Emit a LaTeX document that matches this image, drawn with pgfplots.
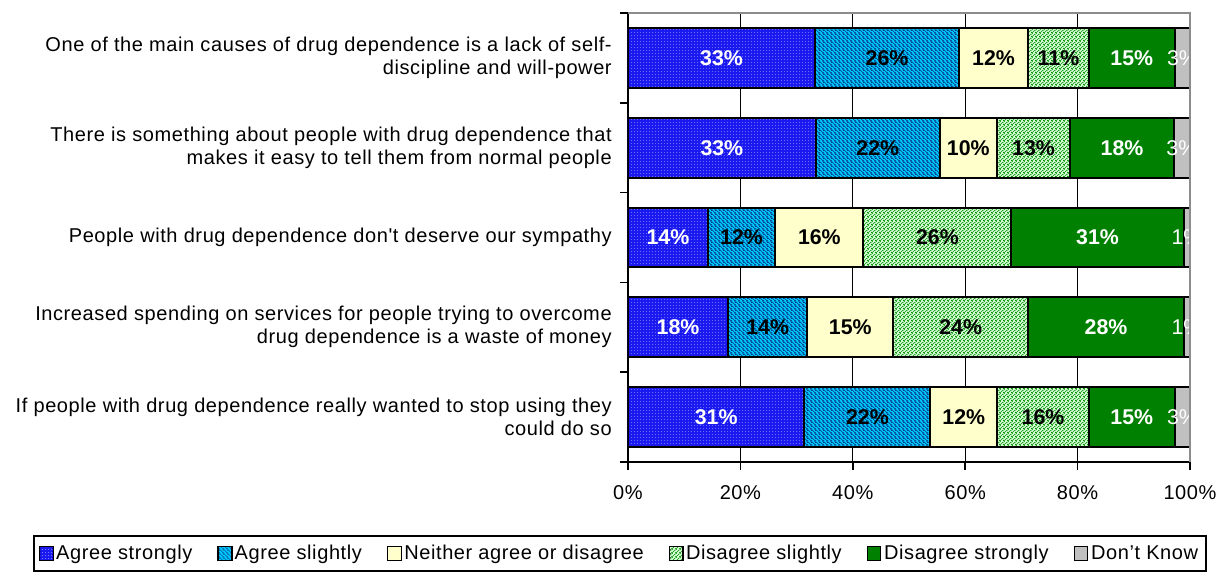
\documentclass[border=0pt]{standalone}
\usepackage{fontspec}
\setmainfont{Liberation Sans}
\newfontfamily\lsfont{Liberation Sans}[LetterSpace=3]
\usepackage{pgfplots}
\usepackage{pgfplotstable}
\pgfplotsset{compat=1.18}
\usetikzlibrary{patterns}

\definecolor{cAS}{RGB}{25,25,240}
\definecolor{cASl}{RGB}{0,204,255}
\definecolor{cASlLine}{RGB}{0,40,120}
\definecolor{cN}{RGB}{255,255,204}
\definecolor{cDSl}{RGB}{215,255,215}
\definecolor{cDSlLine}{RGB}{0,140,0}
\definecolor{cDS}{RGB}{0,128,0}
\definecolor{cDK}{RGB}{192,192,192}
\definecolor{cFrame}{RGB}{140,140,140}

\pgfdeclarepatterninherentlycolored{asdots}{\pgfpointorigin}{\pgfqpoint{2.4pt}{2.4pt}}{\pgfqpoint{2.4pt}{2.4pt}}{%
  \pgfsetfillcolor{cAS}%
  \pgfpathrectangle{\pgfpointorigin}{\pgfqpoint{2.4pt}{2.4pt}}\pgfusepath{fill}%
  \pgfsetfillcolor{white}%
  \pgfpathcircle{\pgfqpoint{1.2pt}{1.2pt}}{0.28pt}\pgfusepath{fill}%
}
\pgfdeclarepatterninherentlycolored{asllines}{\pgfpointorigin}{\pgfqpoint{3pt}{3pt}}{\pgfqpoint{3pt}{3pt}}{%
  \pgfsetfillcolor{cASl}%
  \pgfpathrectangle{\pgfpointorigin}{\pgfqpoint{3pt}{3pt}}\pgfusepath{fill}%
  \pgfsetstrokecolor{cASlLine}\pgfsetlinewidth{0.4pt}%
  \pgfpathmoveto{\pgfqpoint{-1pt}{4pt}}\pgfpathlineto{\pgfqpoint{4pt}{-1pt}}%
  \pgfpathmoveto{\pgfqpoint{-1pt}{1pt}}\pgfpathlineto{\pgfqpoint{1pt}{-1pt}}%
  \pgfpathmoveto{\pgfqpoint{2pt}{4pt}}\pgfpathlineto{\pgfqpoint{4pt}{2pt}}%
  \pgfusepath{stroke}%
}
\pgfdeclarepatterninherentlycolored{dsllines}{\pgfpointorigin}{\pgfqpoint{3pt}{3pt}}{\pgfqpoint{3pt}{3pt}}{%
  \pgfsetfillcolor{cDSl}%
  \pgfpathrectangle{\pgfpointorigin}{\pgfqpoint{3pt}{3pt}}\pgfusepath{fill}%
  \pgfsetstrokecolor{cDSlLine}\pgfsetlinewidth{0.5pt}%
  \pgfpathmoveto{\pgfqpoint{-1pt}{-1pt}}\pgfpathlineto{\pgfqpoint{4pt}{4pt}}%
  \pgfpathmoveto{\pgfqpoint{-1pt}{2pt}}\pgfpathlineto{\pgfqpoint{1pt}{4pt}}%
  \pgfpathmoveto{\pgfqpoint{2pt}{-1pt}}\pgfpathlineto{\pgfqpoint{4pt}{1pt}}%
  \pgfusepath{stroke}%
}

\pgfplotstableread{
y AS ASl N DSl DS DK
5 33.3 25.6 12.3 10.8 15.3 2.7
4 33.4 22.1 10.1 13.1 18.4 2.9
3 14.2 12.0 15.7 26.3 30.7 1.1
2 17.8 14.1 15.3 24.0 27.7 1.1
1 31.4 22.4 11.9 16.3 15.3 2.7
}\data

\newcommand\lblfont{\lsfont\fontsize{15pt}{17.25pt}\selectfont}
\newcommand\barfont{\fontsize{16pt}{18pt}\selectfont}

\pgfplotsset{
  frame/.style={scale only axis, width=421.5pt, height=336.75pt,
    xmin=0, xmax=100, ymin=0.5, ymax=5.5},
}

\begin{document}
\begin{tikzpicture}
\begin{axis}[
  frame,
  xbar stacked, bar width=0.668,
  separate axis lines,
  axis x line*=bottom, axis y line*=left,
  axis line style={black, line width=1.5pt},
  xtick={0,20,40,60,80,100},
  xticklabels={0\%,20\%,40\%,60\%,80\%,100\%},
  xticklabel style={yshift=-8pt},
  ytick={0.5,1.5,2.5,3.5,4.5,5.5},
  yticklabels={,,,,,},
  extra y ticks={1,2,3,4,5},
  extra y tick labels={
    {If people with drug dependence really wanted to stop using they\\could do so},
    {Increased spending on services for people trying to overcome\\drug dependence is a waste of money},
    {People with drug dependence don't deserve our sympathy},
    {There is something about people with drug dependence that\\makes it easy to tell them from normal people},
    {One of the main causes of drug dependence is a lack of self-\\discipline and will-power}},
  extra y tick style={major tick length=0pt, yticklabel style={inner sep=0pt, xshift=-12pt}},
  yticklabel style={align=right},
  tick align=outside,
  major tick length=6pt,
  tick style={black, line width=1.2pt},
  tick label style={font=\lblfont},
  xmajorgrids, major grid style={black, line width=1pt},
  legend columns=6,
  legend cell align=left,
  legend style={at={(axis description cs:-0.0142,-0.2038)}, anchor=center,
    draw=black, line width=1pt, font=\lblfont, inner xsep=4pt, inner ysep=5pt,
    /tikz/every even column/.append style={column sep=17pt}},
  legend image code/.code={\draw[#1, line width=0.75pt] (0pt,-5pt) rectangle (10pt,5pt);},
]
\addplot[preaction={fill=cAS}, pattern=asdots, draw=black, line width=1.5pt] table[x=AS,y=y]{\data};
\addplot[preaction={fill=cASl}, pattern=asllines, draw=black, line width=1.5pt] table[x=ASl,y=y]{\data};
\addplot[fill=cN, draw=black, line width=1.5pt] table[x=N,y=y]{\data};
\addplot[preaction={fill=cDSl}, pattern=dsllines, draw=black, line width=1.5pt] table[x=DSl,y=y]{\data};
\addplot[fill=cDS, draw=black, line width=1.5pt] table[x=DS,y=y]{\data};
\addplot[fill=cDK, draw=black, line width=1.5pt] table[x=DK,y=y]{\data};
\legend{Agree strongly, Agree slightly, Neither agree or disagree, Disagree slightly, Disagree strongly, Don’t Know}
\end{axis}
\begin{axis}[
  frame, hide axis, clip=false,
  nodes near coords={\pgfmathprintnumber[fixed,precision=0,assume math mode=true]{\pgfplotspointmeta}\%},
  every node near coord/.style={anchor=center, inner sep=0pt, font=\barfont\bfseries},
]
\addplot[draw=none, mark=none, point meta=\thisrow{AS}, every node near coord/.append style={text=white}]
  table[x expr=\thisrow{AS}/2, y=y]{\data};
\addplot[draw=none, mark=none, point meta=\thisrow{ASl}, every node near coord/.append style={text=black}]
  table[x expr=\thisrow{AS}+\thisrow{ASl}/2, y=y]{\data};
\addplot[draw=none, mark=none, point meta=\thisrow{N}, every node near coord/.append style={text=black}]
  table[x expr=\thisrow{AS}+\thisrow{ASl}+\thisrow{N}/2, y=y]{\data};
\addplot[draw=none, mark=none, point meta=\thisrow{DSl}, every node near coord/.append style={text=black}]
  table[x expr=\thisrow{AS}+\thisrow{ASl}+\thisrow{N}+\thisrow{DSl}/2, y=y]{\data};
\addplot[draw=none, mark=none, point meta=\thisrow{DS}, every node near coord/.append style={text=white}]
  table[x expr=\thisrow{AS}+\thisrow{ASl}+\thisrow{N}+\thisrow{DSl}+\thisrow{DS}/2, y=y]{\data};
\addplot[draw=none, mark=none, point meta=\thisrow{DK}, every node near coord/.append style={text=white, font=\barfont\mdseries}]
  table[x expr=\thisrow{AS}+\thisrow{ASl}+\thisrow{N}+\thisrow{DSl}+\thisrow{DS}+\thisrow{DK}/2, y=y]{\data};
\end{axis}
\fill[white] (422.3pt,1pt) rectangle (449.25pt,336pt);
\draw[cFrame, line width=1.5pt] (0pt,336.75pt) -- (421.5pt,336.75pt) -- (421.5pt,0pt);
\path[use as bounding box] (-471pt,-82.5pt) rectangle (449.25pt,346.5pt);
\end{tikzpicture}
\end{document}
